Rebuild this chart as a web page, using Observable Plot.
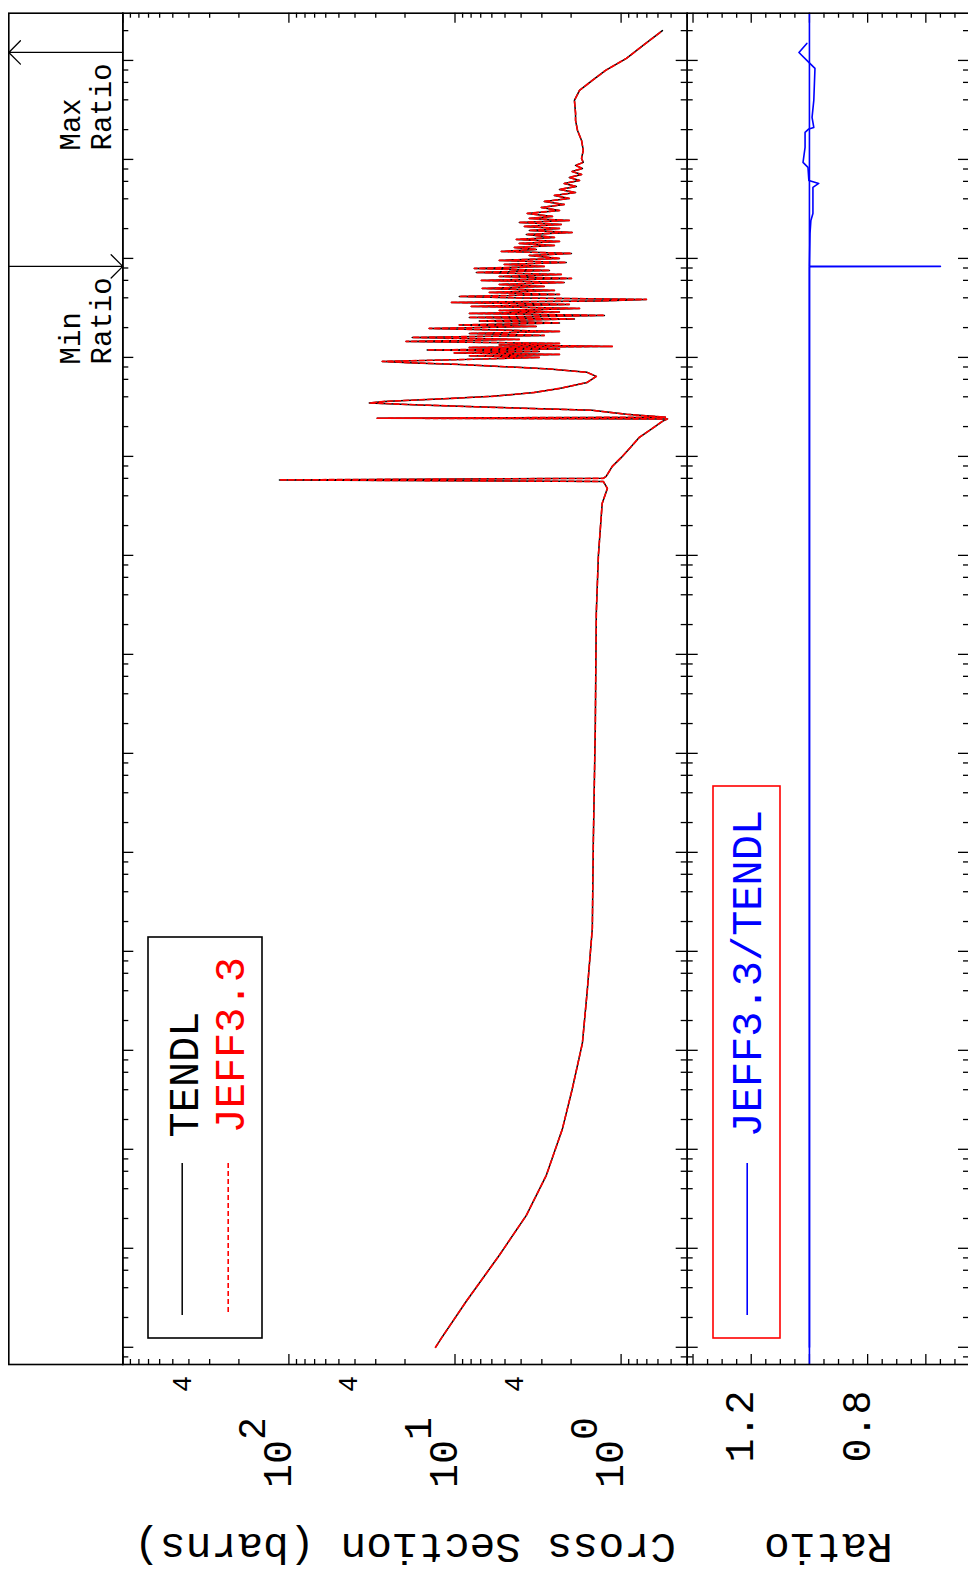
<!DOCTYPE html>
<html>
<head>
<meta charset="utf-8">
<script src="https://cdn.jsdelivr.net/npm/d3@7"></script>
<script src="https://cdn.jsdelivr.net/npm/@observablehq/plot@0.6"></script>
<style>
html, body { margin: 0; padding: 0; background: #fff; }
#chart { position: relative; width: 968px; height: 1584px; overflow: hidden; background: #fff; }
#chart svg { position: absolute; left: 0; top: 0; }
</style>
</head>
<body>
<div id="chart"></div>
<script>
// ---------------- data ----------------
// incident energy (eV) and cross section (barns); TENDL and JEFF-3.3 coincide
const energyEV = [
  1e-5, 1.23e-5, 2.92e-5, 8.50e-5, 2.15e-4, 5.46e-4, 1.59e-3, 4.04e-3, 1.18e-2, 3.94e-2,
  0.171, 1.26, 18.3, 265, 1000, 3350, 4750, 5580, 5790, 6000,
  6280, 7930, 9770, 12300, 15600, 19200, 22600, 23900, 24300, 24900,
  26600, 29200, 31300, 33100, 34700, 35900, 38500, 40400, 44300, 48600,
  55900, 64300, 70600, 76500, 81100, 85000, 88000, 91100,
  95500, 100000, 103600, 107200, 111000, 115000, 119100, 121900, 126200, 129200,
  133800, 138500, 145100, 152000, 159200, 166800, 174700, 183000, 196300, 205600,
  212900, 223000, 233700, 244800, 253500, 265600, 278200, 288100, 298300, 312600,
  327500, 343000, 359400, 372100, 385300, 399000, 413200, 432900, 453500, 475100,
  497700, 521400, 546200, 572200, 599500, 628100, 657900, 689300, 722100, 756500,
  792500, 830200, 869700, 911200, 954600,
  1.000e6, 1.072e6, 1.123e6, 1.177e6, 1.233e6, 1.292e6, 1.353e6, 1.418e6, 1.485e6, 1.556e6,
  1.630e6, 1.747e6, 1.830e6, 1.918e6, 2.009e6, 2.105e6, 2.205e6, 2.310e6, 2.420e6, 2.535e6,
  2.656e6, 2.848e6, 3.053e6, 3.275e6, 3.511e6, 3.765e6, 4.037e6, 4.329e6, 4.642e6, 4.977e6,
  5.337e6, 5.722e6, 6.136e6, 6.579e6, 7.055e6, 7.565e6, 8.111e6, 8.697e6, 9.326e6, 1.023e7,
  1.233e7, 1.556e7, 1.963e7, 2.477e7, 2.915e7, 3.945e7, 4.977e7, 6.281e7, 7.925e7, 1.048e8,
  1.451e8, 2.0e8
];
const tendlBarns = [
  13.1, 12.1, 8.55, 5.41, 3.72, 2.82, 2.26, 1.97, 1.71, 1.60,
  1.49, 1.47, 1.43, 1.41, 1.37, 1.30, 1.21, 1.28, 114, 1.28,
  1.23, 1.13, 0.996, 0.879, 0.776, 0.648, 0.564, 0.526, 29.4, 0.541,
  0.929, 1.49, 5.96, 16.4, 32.8, 26.7, 10.8, 5.96, 3.33, 2.35,
  1.60, 1.41, 1.60, 2.70, 5.41, 9.42, 17.6, 27.4,
  8.20, 3.11, 8.20, 2.35, 10.1, 3.11, 14.7, 2.35, 8.20, 1.13,
  5.41, 2.35, 19.7, 4.10, 18.1, 2.90, 8.20, 2.35, 14.3, 3.24,
  9.42, 2.35, 7.14, 1.91, 8.20, 1.26, 8.20, 2.35, 5.41, 1.78,
  7.98, 2.05, 10.5, 1.35, 0.704, 4.10, 9.42, 2.35, 6.21, 2.52,
  6.85, 2.90, 5.41, 2.20, 6.94, 1.99, 5.41, 2.29, 7.44, 2.70,
  7.65, 2.90, 5.05, 2.14, 5.41,
  2.35, 3.57, 1.99, 5.26, 3.24, 4.39, 2.52, 4.10, 2.35, 4.27,
  2.52, 3.72, 1.97, 3.57, 2.35, 3.82, 2.29, 4.10, 2.05, 3.57,
  2.59, 3.67, 2.35, 3.02, 2.20, 2.90, 2.05, 2.52, 1.88, 2.35,
  1.86, 2.20, 1.78, 2.05, 1.73, 1.97, 1.71, 1.88, 1.69, 1.73,
  1.69, 1.73, 1.83, 1.88, 1.88, 1.91, 1.78, 1.49, 1.24, 0.929,
  0.724, 0.564
];
const jeff33Barns = tendlBarns; // the two evaluations overlay each other in the reference

// ratio JEFF3.3 / TENDL
const ratioEnergyEV = [1e-5, 8.25e5, 8.302e5, 8.35e5, 1.789e6, 2.420e6, 2.848e6, 5.214e6, 5.722e6, 6.136e6,
  8.302e6, 9.326e6, 1.322e7, 1.874e7, 2.033e7, 2.105e7, 2.656e7, 3.945e7, 8.302e7, 9.546e7, 1.204e8, 1.485e8];
const ratioValues = [1.0, 1.0, 0.550, 1.0, 0.998, 0.995, 0.988, 0.988, 0.968, 1.002,
  1.005, 1.022, 1.015, 1.015, 1.002, 0.985, 0.991, 0.985, 0.981, 1.002, 1.036, 1.009];

// tick labels
const sigmaDecadeTicks = [100, 10, 1];
const sigmaDecadeExponents = ["2", "1", "0"];
const sigmaFourTicks = [400, 40, 4];
const ratioLabelTicks = [1.2, 0.8];
const seriesNames = ["TENDL", "JEFF3.3"];
const ratioName = "JEFF3.3/TENDL";

// ---------------- layout ----------------
const W = 970, H = 1584;
const frameTop = 12.7, frameBottom = 1364;
const stripLeft = 8.3, sigmaLeft = 122.3, split = 686.7, ratioRight = 969;
const frameH = frameBottom - frameTop;
const energyDomain = [6.7e-6, 3e8];
const mono = "Liberation Mono, DejaVu Sans Mono, monospace";
const BLUE = "#0000ff", RED = "#ff0000";

const xsTable = energyEV.map((e, i) => ({energy: e, tendl: tendlBarns[i], jeff: jeff33Barns[i]}));
const ratioTable = ratioEnergyEV.map((e, i) => ({energy: e, ratio: ratioValues[i]}));

const majorE = d3.range(-6, 9).map(e => 10 ** e).filter(v => v >= energyDomain[0] && v <= energyDomain[1]);
const minorE = [];
for (let e = -6; e <= 8; e++) for (const m of [2, 4, 6, 8]) { const v = m * 10 ** e; if (v >= energyDomain[0] && v <= energyDomain[1]) minorE.push(v); }

const sigMajor = [1, 10, 100, 1000];
const sigMinor = [];
for (let e = -1; e <= 2; e++) for (let m = 2; m <= 9; m++) { const v = m * 10 ** e; if (v >= 0.4 && v <= 1000) sigMinor.push(v); }

const ratioMajor = [0.6, 0.8, 1.0, 1.2, 1.4];
const ratioMinor = d3.range(10, 29).map(k => k * 0.05).filter(v => !ratioMajor.some(m => Math.abs(m - v) < 1e-6));

function energyTicks(panelW) {
  const s = {stroke: "black", strokeWidth: 1.3};
  return [
    Plot.tickY(majorE, {y: d => d, ...s, insetRight: panelW - 11}),
    Plot.tickY(minorE, {y: d => d, ...s, insetRight: panelW - 6}),
    Plot.tickY(majorE, {y: d => d, ...s, insetLeft: panelW - 11}),
    Plot.tickY(minorE, {y: d => d, ...s, insetLeft: panelW - 6})
  ];
}
function valueTicks(major, minor) {
  const s = {stroke: "black", strokeWidth: 1.3};
  return [
    Plot.tickX(major, {x: d => d, ...s, insetBottom: frameH - 10}),
    Plot.tickX(minor, {x: d => d, ...s, insetBottom: frameH - 5}),
    Plot.tickX(major, {x: d => d, ...s, insetTop: frameH - 10}),
    Plot.tickX(minor, {x: d => d, ...s, insetTop: frameH - 5})
  ];
}
function panel(marginLeft, marginRight, xOpts, marks) {
  return Plot.plot({
    width: W, height: H,
    marginTop: frameTop, marginBottom: H - frameBottom, marginLeft, marginRight,
    x: {...xOpts, axis: null},
    y: {type: "log", domain: energyDomain, axis: null},
    style: {background: "transparent", maxWidth: "none", overflow: "visible", fontFamily: mono},
    marks
  });
}

// ---------------- strip with min / max ratio arrows ----------------
const iMax = d3.maxIndex(ratioValues), iMin = d3.minIndex(ratioValues);
const extremes = [
  {energy: ratioEnergyEV[iMax], from: 1, to: 0, label: "Max\nRatio"},
  {energy: ratioEnergyEV[iMin], from: 0, to: 1, label: "Min\nRatio"}
];
const strip = panel(stripLeft, W - sigmaLeft, {domain: [0, 1]}, [
  Plot.frame({stroke: "black", strokeWidth: 1.6}),
  Plot.arrow(extremes, {x1: "from", x2: "to", y1: "energy", y2: "energy", stroke: "black", strokeWidth: 1.3, headAngle: 90, headLength: 19}),
  Plot.text(extremes, {y: "energy", text: "label", frameAnchor: "right", dx: -12, dy: 98, rotate: -90,
    textAnchor: "start", lineAnchor: "bottom", lineHeight: 1.07, fontSize: 29, fontFamily: mono, fill: "black"})
]);

// ---------------- cross section panel ----------------
const labelStyle = {frameAnchor: "bottom", rotate: -90, textAnchor: "middle", lineAnchor: "bottom", fontFamily: mono, fill: "black"};
const xsPanel = panel(sigmaLeft, W - split, {type: "log", domain: [0.4, 1000], reverse: true}, [
  ...energyTicks(split - sigmaLeft),
  ...valueTicks(sigMajor, sigMinor),
  Plot.line(xsTable, {x: "tendl", y: "energy", stroke: "black", strokeWidth: 1.5}),
  Plot.line(xsTable, {x: "jeff", y: "energy", stroke: RED, strokeWidth: 1.6, strokeDasharray: "5,3"}),
  Plot.frame({stroke: "black", strokeWidth: 1.6}),
  Plot.text(sigmaFourTicks, {x: d => d, text: () => "4", ...labelStyle, dx: 2, dy: 19.5, fontSize: 27}),
  Plot.text(sigmaDecadeTicks, {x: d => d, text: () => "10", ...labelStyle, dx: 2, dy: 99.5, fontSize: 40}),
  Plot.text(sigmaDecadeTicks, {x: d => d, text: (d, i) => sigmaDecadeExponents[i], ...labelStyle, dx: -24, dy: 64, fontSize: 38}),
  Plot.text(["Cross Section (barns)"], {text: d => d, frameAnchor: "bottom", rotate: 180, textAnchor: "middle", lineAnchor: "bottom", dy: 169, fontSize: 43, fontFamily: mono, fill: "black"})
]);

// ---------------- ratio panel ----------------
const ratioPanel = panel(split, W - ratioRight, {domain: [0.45, 1.42], reverse: true}, [
  ...energyTicks(ratioRight - split),
  ...valueTicks(ratioMajor, ratioMinor),
  Plot.ruleX([1], {stroke: BLUE, strokeWidth: 1.6}),
  Plot.line(ratioTable, {x: "ratio", y: "energy", stroke: BLUE, strokeWidth: 1.6}),
  Plot.frame({stroke: "black", strokeWidth: 1.6}),
  Plot.text(ratioLabelTicks, {x: d => d, text: d => d.toFixed(1), ...labelStyle, dx: 2, dy: 62, fontSize: 40}),
  Plot.text(["Ratio"], {text: d => d, frameAnchor: "bottom", rotate: 180, textAnchor: "middle", lineAnchor: "bottom", dy: 169, fontSize: 43, fontFamily: mono, fill: "black"})
]);

// ---------------- legends (pixel layout) ----------------
const legend = Plot.plot({
  width: W, height: H, margin: 0,
  x: {type: "identity", axis: null}, y: {type: "identity", axis: null},
  style: {background: "transparent", maxWidth: "none", overflow: "visible", fontFamily: mono},
  marks: [
    Plot.rect([0], {x1: 148, x2: 262, y1: 937, y2: 1338, fill: "white", stroke: "black", strokeWidth: 1.6}),
    Plot.ruleX([0], {x: 181.7, y1: 1163, y2: 1315, stroke: "black", strokeWidth: 1.5}),
    Plot.ruleX([0], {x: 227.7, y1: 1163, y2: 1315, stroke: RED, strokeWidth: 1.6, strokeDasharray: "5,3"}),
    Plot.text([seriesNames[0]], {text: d => d, x: 197, y: 1137, rotate: -90, textAnchor: "start", lineAnchor: "bottom", fontSize: 42, fontFamily: mono, fill: "black"}),
    Plot.text([seriesNames[1]], {text: d => d, x: 243, y: 1133, rotate: -90, textAnchor: "start", lineAnchor: "bottom", fontSize: 42, fontFamily: mono, fill: RED}),
    Plot.rect([0], {x1: 713, x2: 780, y1: 786, y2: 1338, fill: "white", stroke: RED, strokeWidth: 1.6}),
    Plot.ruleX([0], {x: 746.7, y1: 1163, y2: 1315, stroke: BLUE, strokeWidth: 1.6}),
    Plot.text([ratioName], {text: d => d, x: 760, y: 1137, rotate: -90, textAnchor: "start", lineAnchor: "bottom", fontSize: 42, fontFamily: mono, fill: BLUE})
  ]
});

const chart = document.getElementById("chart");
for (const svg of [strip, xsPanel, ratioPanel, legend]) chart.appendChild(svg);
</script>
</body>
</html>
